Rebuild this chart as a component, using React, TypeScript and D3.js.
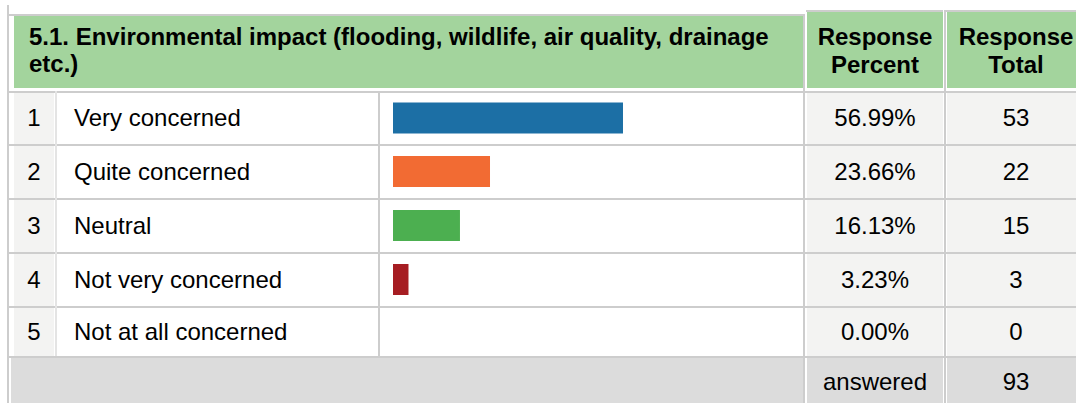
import React from "react";
import * as d3 from "d3";

const title = ["5.1. Environmental impact (flooding, wildlife, air quality, drainage", "etc.)"];
const headerPercent = ["Response", "Percent"];
const headerTotal = ["Response", "Total"];
const rowNumbers = ["1", "2", "3", "4", "5"];
const categories = ["Very concerned", "Quite concerned", "Neutral", "Not very concerned", "Not at all concerned"];
const percents = [56.99, 23.66, 16.13, 3.23, 0.0];
const totals = [53, 22, 15, 3, 0];
const answeredLabel = "answered";
const answeredTotal = 93;
const barColors = ["#1c6fa5", "#f26b33", "#4caf50", "#a61d22", "#888888"];

const W = 1076;
const H = 403;
const FONT = "'Liberation Sans', Arial, sans-serif";
const FS = 24;
const LINE = "#cdcdcd";
const GREEN = "#a3d49d";
const CELL = "#f3f3f2";
const FOOT = "#dcdcdc";

// layout
const colNum = [14, 54];
const colLabel = [58, 378];
const colBar = [382, 803];
const colPct = [807, 943];
const colTot = [947, 1076];
const rowEdges = [91, 144, 198, 252, 306, 356];

export default function App() {
  const x = d3.scaleLinear().domain([0, 100]).range([colBar[0] + 13.6, colBar[0] + 412.6]);
  const barX0 = colBar[0] + 11;
  const rows = categories.map((c, i) => ({
    c,
    i,
    top: rowEdges[i] + 2,
    bottom: rowEdges[i + 1],
    mid: (rowEdges[i] + 1 + rowEdges[i + 1]) / 2,
  }));
  const pctFmt = d3.format(".2f");
  const footTop = rowEdges[5] + 2;
  const footMid = (footTop + H) / 2 + 1;

  return (
    <svg
      width={W}
      height={H}
      style={{ position: "absolute", left: 0, top: 0, display: "block", background: "#fff" }}
      fontFamily={FONT}
    >
      {/* header fills */}
      <rect x={14} y={16} width={colBar[1] - 14} height={72} fill={GREEN} />
      <rect x={colPct[0]} y={12} width={colPct[1] - colPct[0]} height={76} fill={GREEN} />
      <rect x={colTot[0]} y={12} width={colTot[1] - colTot[0]} height={76} fill={GREEN} />

      {/* row fills */}
      {rows.map((r) => (
        <g key={"f" + r.i}>
          <rect x={colNum[0]} y={r.top} width={colNum[1] - colNum[0]} height={r.bottom - r.top} fill={CELL} />
          <rect x={colPct[0]} y={r.top} width={colPct[1] - colPct[0]} height={r.bottom - r.top} fill={CELL} />
          <rect x={colTot[0]} y={r.top} width={colTot[1] - colTot[0]} height={r.bottom - r.top} fill={CELL} />
        </g>
      ))}

      {/* footer fills */}
      <rect x={11} y={footTop} width={colBar[1] - 11} height={H - footTop} fill={FOOT} />
      <rect x={colPct[0]} y={footTop} width={colPct[1] - colPct[0]} height={H - footTop} fill={FOOT} />
      <rect x={colTot[0]} y={footTop} width={colTot[1] - colTot[0]} height={H - footTop} fill={FOOT} />

      {/* grid lines */}
      <rect x={7} y={5} width={2} height={H - 5} fill={LINE} />
      <rect x={8} y={14} width={colBar[1] - 8} height={2} fill={LINE} />
      <rect x={colPct[0] - 1} y={10} width={colPct[1] - colPct[0] + 1} height={2} fill={LINE} />
      <rect x={colTot[0] - 1} y={10} width={colTot[1] - colTot[0] + 1} height={2} fill={LINE} />
      {rowEdges.map((y, k) => (
        <rect key={"h" + k} x={8} y={y} width={W - 8} height={2} fill={LINE} />
      ))}
      <rect x={55} y={rowEdges[0]} width={2} height={rowEdges[5] - rowEdges[0]} fill="#e4e4e4" />
      <rect x={378} y={rowEdges[0]} width={2} height={rowEdges[5] - rowEdges[0]} fill={LINE} />
      <rect x={803} y={14} width={2} height={H - 14} fill={LINE} />
      <rect x={944} y={10} width={2} height={H - 10} fill={LINE} />

      {/* header texts */}
      <g fontWeight="bold" fontSize={FS} fill="#000">
        {title.map((t, k) => (
          <text key={"t" + k} x={29} y={45 + k * 27}>
            {t}
          </text>
        ))}
        {headerPercent.map((t, k) => (
          <text key={"p" + k} x={(colPct[0] + colPct[1]) / 2} y={45 + k * 28} textAnchor="middle">
            {t}
          </text>
        ))}
        {headerTotal.map((t, k) => (
          <text key={"o" + k} x={1016} y={45 + k * 28} textAnchor="middle">
            {t}
          </text>
        ))}
      </g>

      {/* rows */}
      {rows.map((r) => (
        <g key={"r" + r.i} fontSize={FS} fill="#000">
          <text x={34} y={r.mid} dy="0.35em" textAnchor="middle">
            {rowNumbers[r.i]}
          </text>
          <text x={74} y={r.mid} dy="0.35em">
            {r.c}
          </text>
          {percents[r.i] > 0 && (
            <rect
              x={barX0}
              y={r.mid - 15.5}
              width={x(percents[r.i]) - barX0}
              height={31}
              fill={barColors[r.i]}
            />
          )}
          <text x={(colPct[0] + colPct[1]) / 2} y={r.mid} dy="0.35em" textAnchor="middle">
            {pctFmt(percents[r.i]) + "%"}
          </text>
          <text x={1016} y={r.mid} dy="0.35em" textAnchor="middle">
            {totals[r.i]}
          </text>
        </g>
      ))}

      {/* footer */}
      <g fontSize={FS} fill="#000">
        <text x={(colPct[0] + colPct[1]) / 2} y={footMid} dy="0.35em" textAnchor="middle">
          {answeredLabel}
        </text>
        <text x={1016} y={footMid} dy="0.35em" textAnchor="middle">
          {answeredTotal}
        </text>
      </g>
    </svg>
  );
}
